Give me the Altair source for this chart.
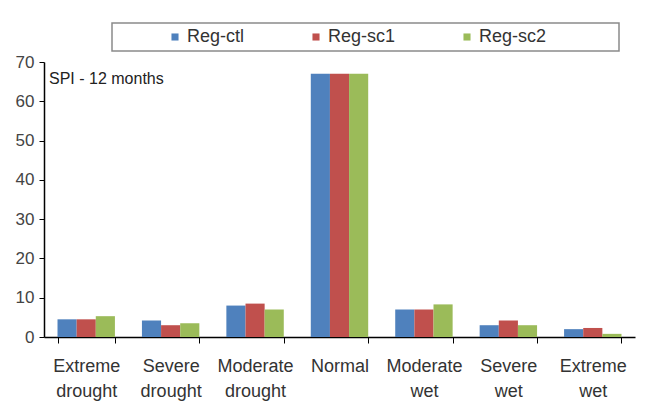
import altair as alt
import pandas as pd

categories = ["Extreme drought", "Severe drought", "Moderate drought", "Normal",
              "Moderate wet", "Severe wet", "Extreme wet"]
series = ["Reg-ctl", "Reg-sc1", "Reg-sc2"]
reg_ctl = [4.5, 4.2, 8.0, 67.0, 7.0, 3.0, 2.0]
reg_sc1 = [4.5, 3.0, 8.5, 67.0, 7.0, 4.2, 2.3]
reg_sc2 = [5.3, 3.5, 7.0, 67.0, 8.3, 3.0, 0.8]
colors = ["#4F81BD", "#C0504D", "#9BBB59"]
y_ticks = [0, 10, 20, 30, 40, 50, 60, 70]

rows = []
for s, vals in zip(series, [reg_ctl, reg_sc1, reg_sc2]):
    for c, v in zip(categories, vals):
        rows.append({"category": c, "series": s, "value": v})
df = pd.DataFrame(rows)
one = pd.DataFrame({"k": [0]})

FONT = "Liberation Sans"

bars = alt.Chart(df).mark_bar().encode(
    x=alt.X("category:N", sort=categories,
            scale=alt.Scale(paddingInner=0.32, paddingOuter=0.16),
            axis=alt.Axis(title=None, labelAngle=0, tickBand="extent",
                          labelExpr="split(datum.label, ' ')",
                          labelFontSize=18, labelFont=FONT, labelColor="#333333",
                          labelLineHeight=25, labelPadding=14, tickSize=6,
                          tickColor="#000000", domainColor="#000000", domainWidth=1.5,
                          labelBaseline="top")),
    xOffset=alt.XOffset("series:N", sort=series),
    y=alt.Y("value:Q", scale=alt.Scale(domain=[0, 70], nice=False),
            axis=alt.Axis(title=None, values=y_ticks, grid=False, tickSize=5,
                          labelFontSize=17, labelFont=FONT, labelColor="#444444",
                          labelPadding=5, tickColor="#000000", domainColor="#000000",
                          domainWidth=1.5)),
    color=alt.Color("series:N", sort=series,
                    scale=alt.Scale(domain=series, range=colors),
                    legend=alt.Legend(title=None, orient="none", direction="horizontal",
                                      legendX=122, legendY=-34, symbolType="square",
                                      symbolSize=50, labelFontSize=18, labelFont=FONT,
                                      labelColor="#333333", columnPadding=62,
                                      labelOffset=3, padding=0)),
)

box = alt.Chart(one).mark_rect(fill="transparent", stroke="#8a8a8a", strokeWidth=1.5).encode(
    x=alt.value(68), x2=alt.value(575), y=alt.value(-39), y2=alt.value(-11)
)

label = alt.Chart(one).mark_text(text="SPI - 12 months", align="left", baseline="middle",
                                 fontSize=16, font=FONT, color="#222222").encode(
    x=alt.value(5), y=alt.value(17)
)

chart = alt.layer(box, bars, label).properties(
    width=591, height=275,
    autosize=alt.AutoSizeParams(type="none"),
    padding={"left": 44, "top": 62, "right": 18, "bottom": 81},
    background="white",
).configure_view(strokeWidth=0, stroke="transparent")

chart.save("out.html", embed_options={"renderer": "svg", "actions": False})
